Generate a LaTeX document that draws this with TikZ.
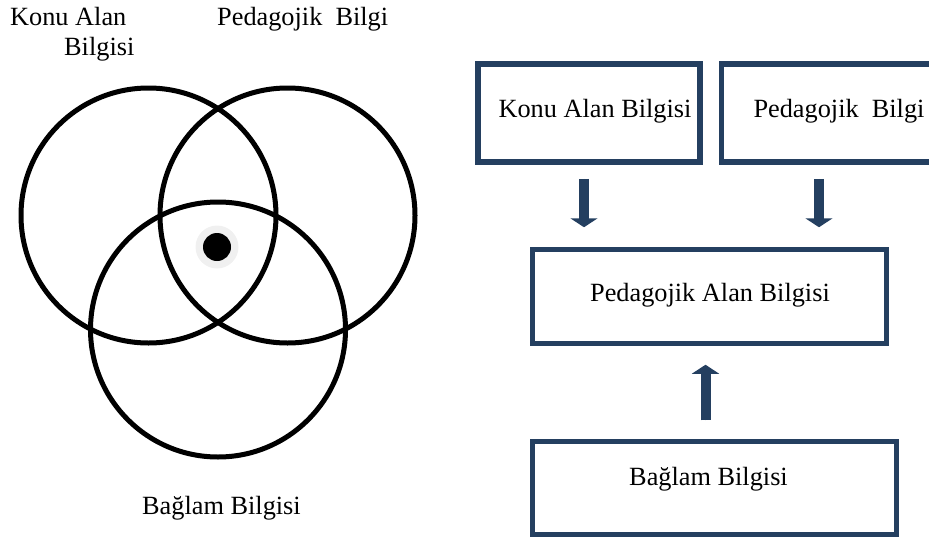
\documentclass[tikz,border=0pt]{standalone}
\usepackage{fontspec}
\setmainfont{Liberation Serif}
\usepackage{xcolor}
\usetikzlibrary{arrows.meta}
\usetikzlibrary{positioning}

\definecolor{navy}{HTML}{243F60}
\definecolor{ringgray}{HTML}{F0F0F0}

\begin{document}
\begin{tikzpicture}[x=1pt,y=-1pt,>={Triangle[width=27pt,length=9pt]},font=\fontsize{26.3}{31}\selectfont]
	\tikzstyle{venn}=[draw, line width=5pt]
	\tikzstyle{box}=[draw=navy, line width=5.5pt, inner sep=0pt]
	\tikzstyle{txt}=[anchor=base, inner sep=0pt]
	\tikzstyle{lbl}=[anchor=base west, inner sep=0pt]
	\tikzstyle{bigarrow}=[->, draw=navy, fill=navy, line width=10pt]
	\useasboundingbox (0,0) rectangle (929,538);
	\clip (0,0) rectangle (929,538);
	% venn side
	\draw[venn] (148.5,215.5) circle[radius=127.5];
	\draw[venn] (287.5,215.5) circle[radius=127.5];
	\draw[venn] (218,329.5) circle[radius=127.5];
	\fill[ringgray] (217,247) circle[radius=21.5];
	\fill[black] (217,247) circle[radius=14];
	\node[lbl] (kalbl1) at (10,25) {Konu Alan};
	\node[lbl] (kalbl2) at (64,55) {Bilgisi};
	\node[lbl] (pblbl) at (217,25) {Pedagojik\ \ Bilgi};
	\node[lbl] (bblbl) at (142,514) {Bağlam Bilgisi};
	% box side
	\node[box, minimum width=222, minimum height=98] (kab) at (589,113) {};
	\node[box, minimum width=228.5, minimum height=98] (pb) at (835.75,113) {};
	\node[box, minimum width=354, minimum height=94] (pab) at (709.5,296.5) {};
	\node[box, minimum width=364, minimum height=93] (bb) at (714.5,488) {};
	\node[txt] (kabtxt) at (595,117) {Konu Alan Bilgisi};
	\node[txt] (pbtxt) at (839,117) {Pedagojik\ \ Bilgi};
	\node[txt] (pabtxt) at (710,301) {Pedagojik Alan Bilgisi};
	\node[txt] (bbtxt) at (708.5,485) {Bağlam Bilgisi};
	\coordinate (k1) at (584,0);
	\coordinate (p1) at (819,0);
	\coordinate (b1) at (705.5,0);
	\path
		(kab.south -| k1) edge[bigarrow, shorten <=14pt, shorten >=19.5pt] (pab.north -| k1)
		(pb.south -| p1) edge[bigarrow, shorten <=14pt, shorten >=19.5pt] (pab.north -| p1)
		(bb.north -| b1) edge[bigarrow, shorten <=18.5pt, shorten >=18.5pt] (pab.south -| b1);
\end{tikzpicture}
\end{document}
